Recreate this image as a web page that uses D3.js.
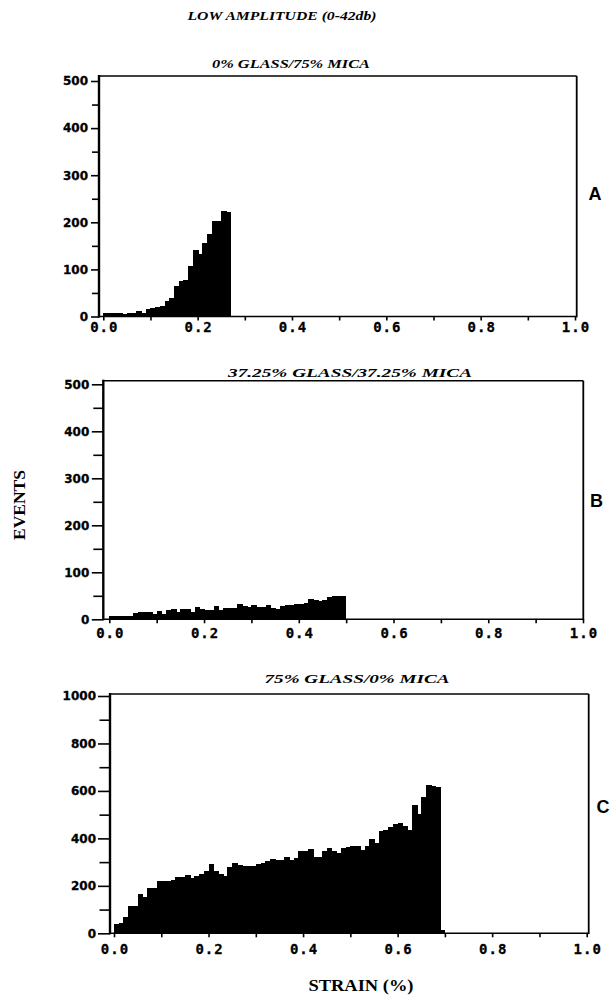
<!DOCTYPE html>
<html><head><meta charset="utf-8">
<script src="https://cdn.jsdelivr.net/npm/d3@7"></script>
<style>body{margin:0;background:#fff}</style>
</head><body>
<svg id="chart" width="613" height="996"></svg>
<script>
// ---- data ----
const mainTitle = "LOW AMPLITUDE (0-42db)";
const panelTitles = ["0% GLASS/75% MICA", "37.25% GLASS/37.25% MICA", "75% GLASS/0% MICA"];
const panelLetters = ["A", "B", "C"];
const yAxisLabel = "EVENTS";
const xAxisLabel = "STRAIN (%)";
const binWidth = 0.01; // strain per histogram bin, bins start at 0.0
const eventsA = [8,8,8,8,5,7,8,11,8,15,18,20,22,33,40,65,75,78,108,142,133,155,176,202,202,224,222];
const eventsB = [7,7,7,7,8,13,15,16,15,11,18,11,20,21,16,22,22,16,27,22,20,20,28,20,23,23,25,33,28,27,30,27,27,31,25,21,28,30,31,32,33,35,43,41,40,41,47,50,50,49];
const eventsC = [39,45,68,113,115,166,155,190,190,222,222,220,225,236,238,246,232,240,250,262,290,262,250,240,280,296,289,285,284,284,292,296,305,313,310,310,321,310,318,345,348,355,320,320,345,360,345,340,360,362,366,366,352,366,397,380,430,434,450,462,465,452,436,540,504,575,627,622,618,15];
const xTickValues = [0, 0.2, 0.4, 0.6, 0.8, 1.0];
const xMinorTickValues = [0.1, 0.3, 0.5, 0.7, 0.9];
const yTicksAB = [0, 100, 200, 300, 400, 500];
const yMinorAB = [50, 150, 250, 350, 450];
const yTicksC = [0, 200, 400, 600, 800, 1000];
const yMinorC = [100, 300, 500, 700, 900];
const yMaxAB = 500, yMaxC = 1000;

// ---- layout ----
const layout = [
  {x0:103.3, x1:575, y0:316.5, y1:81, boxL:99, boxT:76, boxR:576.7, tick:8, minor:7, pad:3, xpad:1.8,
   tX:291, tY:68, tW:158, lX:595, lY:199.5},
  {x0:109.3, x1:583, y0:619.3, y1:384.3, boxL:103.3, boxT:380.7, boxR:583.3, tick:11.5, minor:10, pad:2.5, xpad:4.5,
   tX:350, tY:376.5, tW:244, lX:596.5, lY:506.7},
  {x0:114, x1:586.7, y0:933.3, y1:696, boxL:110, boxT:694, boxR:588.7, tick:12, minor:10.5, pad:2, xpad:6.5,
   tX:357, tY:683.3, tW:185, lX:603, lY:813.3}
];
const series = [eventsA, eventsB, eventsC];
const yMaxes = [yMaxAB, yMaxAB, yMaxC];
const yMajors = [yTicksAB, yTicksAB, yTicksC];
const yMinors = [yMinorAB, yMinorAB, yMinorC];

const svg = d3.select("#chart");
const serif = "'Liberation Serif','Times New Roman',serif";

svg.append("text").attr("x", 282).attr("y", 19.5).attr("text-anchor", "middle")
  .attr("font-family", serif).attr("font-weight", "bold").attr("font-style", "italic")
  .attr("font-size", 13.5).attr("textLength", 189).attr("lengthAdjust", "spacingAndGlyphs")
  .text(mainTitle);

layout.forEach((L, i) => {
  const x = d3.scaleLinear().domain([0, 1]).range([L.x0, L.x1]);
  const y = d3.scaleLinear().domain([0, yMaxes[i]]).range([L.y0, L.y1]);
  const g = svg.append("g");

  // bars (slight overlap to avoid seams)
  g.append("g").attr("shape-rendering", "crispEdges").selectAll("rect").data(series[i]).join("rect")
    .attr("x", (d, k) => x(k * binWidth))
    .attr("y", d => y(d))
    .attr("width", (d, k) => x((k + 1) * binWidth) - x(k * binWidth) + (k < series[i].length - 1 ? 1 : 0))
    .attr("height", d => y(0) - y(d))
    .attr("fill", "#000");

  // frame
  const line = (x1, y1, x2, y2, w) => g.append("line").attr("x1", x1).attr("y1", y1)
    .attr("x2", x2).attr("y2", y2).attr("stroke", "#000").attr("stroke-width", w);
  line(L.boxL, L.boxT, L.boxR, L.boxT, 1.6);
  line(L.boxR, L.boxT, L.boxR, L.y0 + 0.8, 1.8);
  line(L.boxL, L.y0, L.boxR, L.y0, 1.6);
  line(L.boxL, L.boxT - 1, L.boxL, L.y0 + 1, 2.4);

  // y axis
  const ya = g.append("g").attr("transform", `translate(${L.boxL},0)`)
    .call(d3.axisLeft(y).tickValues(yMajors[i]).tickSize(L.tick).tickPadding(L.pad).tickFormat(d3.format("d")));
  ya.select(".domain").remove();
  ya.selectAll("line").attr("stroke-width", 1.6);
  ya.selectAll("text").attr("font-family", "'DejaVu Sans',sans-serif").attr("font-weight", "bold")
    .attr("font-size", 12).attr("fill", "#000").attr("stroke", "#000").attr("stroke-width", 0.3);
  const ym = g.append("g").attr("transform", `translate(${L.boxL},0)`)
    .call(d3.axisLeft(y).tickValues(yMinors[i]).tickSize(L.minor).tickFormat(""));
  ym.select(".domain").remove();
  ym.selectAll("line").attr("stroke-width", 1.6);

  // x axis
  const xa = g.append("g").attr("transform", `translate(0,${L.y0})`)
    .call(d3.axisBottom(x).tickValues(xTickValues).tickSize(4).tickPadding(L.xpad).tickFormat(d3.format(".1f")));
  xa.select(".domain").remove();
  xa.selectAll("line").attr("stroke-width", 1.6);
  xa.selectAll("text").attr("font-family", "'DejaVu Sans Mono',monospace").attr("font-weight", "bold")
    .attr("font-size", 14).attr("letter-spacing", 1).attr("dx", 0.5).attr("fill", "#000")
    .attr("stroke", "#000").attr("stroke-width", 0.3);
  const xm = g.append("g").attr("transform", `translate(0,${L.y0})`)
    .call(d3.axisBottom(x).tickValues(xMinorTickValues).tickSize(4).tickFormat(""));
  xm.select(".domain").remove();
  xm.selectAll("line").attr("stroke-width", 1.6);

  // panel title and letter
  g.append("text").attr("x", L.tX).attr("y", L.tY).attr("text-anchor", "middle")
    .attr("font-family", serif).attr("font-weight", "bold").attr("font-style", "italic")
    .attr("font-size", 13.5).attr("textLength", L.tW).attr("lengthAdjust", "spacingAndGlyphs")
    .text(panelTitles[i]);
  g.append("text").attr("x", L.lX).attr("y", L.lY).attr("text-anchor", "middle")
    .attr("font-family", "'Liberation Sans',Arial,sans-serif").attr("font-weight", "bold")
    .attr("font-size", 18).text(panelLetters[i]);
});

svg.append("text").attr("transform", "translate(25,505) rotate(-90)").attr("text-anchor", "middle")
  .attr("font-family", serif).attr("font-weight", "bold").attr("font-size", 16)
  .attr("textLength", 70).attr("lengthAdjust", "spacingAndGlyphs").text(yAxisLabel);
svg.append("text").attr("x", 361).attr("y", 991).attr("text-anchor", "middle")
  .attr("font-family", serif).attr("font-weight", "bold").attr("font-size", 16)
  .attr("textLength", 105).attr("lengthAdjust", "spacingAndGlyphs").text(xAxisLabel);
</script>
</body></html>
